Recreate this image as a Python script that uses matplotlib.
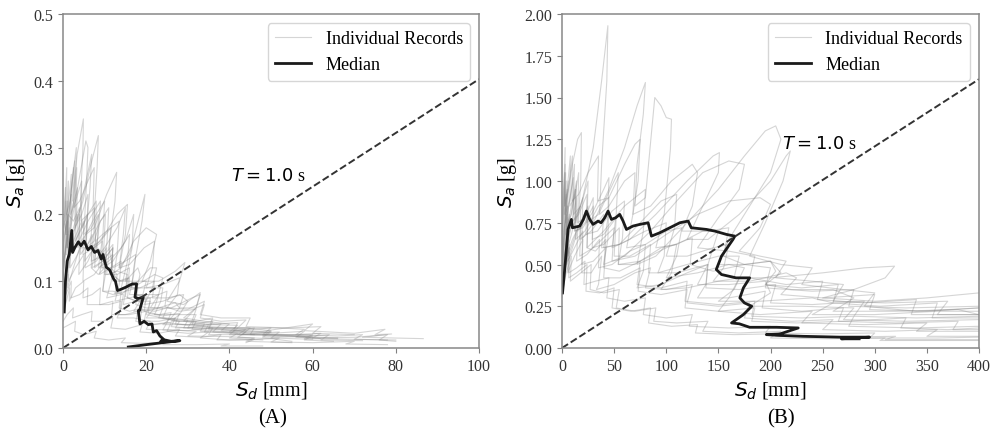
import matplotlib
matplotlib.use('Agg')
import matplotlib.pyplot as plt
import numpy as np

plt.rcParams['font.family'] = 'serif'
plt.rcParams['font.serif'] = ['Liberation Serif', 'DejaVu Serif']
plt.rcParams['mathtext.fontset'] = 'dejavusans'

# period of the reference line [s]
T_REF = 1.0

# ---------------- panel A : individual records (Sd mm, Sa g) ----------------
a01 = [(0, 0.10), (0.4, 0.13), (0.9, 0.17), (0.8, 0.14), (1.6, 0.21), (2.5, 0.27), (2.3, 0.22), (3.4, 0.29),
       (4.9, 0.343), (4.8, 0.30), (4.2, 0.22), (4.6, 0.18), (6.0, 0.20), (7.6, 0.21), (7.4, 0.17), (6.8, 0.13),
       (8.5, 0.135), (10.5, 0.14), (10.2, 0.11), (9.5, 0.085), (12, 0.085), (14.5, 0.08), (14, 0.06), (13, 0.045),
       (17, 0.045), (21, 0.04), (20, 0.028), (26, 0.027), (32, 0.025), (30, 0.018), (40, 0.017), (46, 0.015),
       (44, 0.01), (55, 0.008)]
a02 = [(0, 0.15), (0.6, 0.18), (1.2, 0.2), (1.0, 0.16), (2.2, 0.21), (3.5, 0.24), (3.2, 0.19), (4.8, 0.22),
       (6.5, 0.27), (8.5, 0.318), (8.2, 0.27), (7.5, 0.2), (7.8, 0.16), (9.5, 0.17), (11.5, 0.18), (11, 0.14),
       (10.5, 0.11), (13, 0.115), (15.5, 0.11), (15, 0.085), (14.5, 0.065), (17.5, 0.07), (21, 0.07), (20, 0.05),
       (24, 0.045), (28, 0.04), (27, 0.03), (35, 0.032), (42, 0.03), (40, 0.02), (50, 0.02), (60, 0.018),
       (58, 0.012), (65, 0.01)]
a03 = [(0, 0.08), (0.7, 0.11), (1.5, 0.15), (1.4, 0.12), (2.5, 0.17), (4.5, 0.22), (6.9, 0.29), (6.5, 0.24),
       (5.5, 0.17), (7.5, 0.18), (10.5, 0.23), (12.9, 0.263), (12.5, 0.22), (11, 0.15), (12, 0.12), (15, 0.13),
       (17.5, 0.14), (17, 0.11), (16, 0.08), (19, 0.08), (23, 0.08), (22, 0.06), (20, 0.045), (25, 0.045),
       (30, 0.042), (29, 0.03), (36, 0.03), (44, 0.028), (42, 0.02), (52, 0.02), (60, 0.02), (58, 0.014),
       (70, 0.013), (78, 0.012)]
a04 = [(0, 0.18), (0.3, 0.19), (0.8, 0.17), (1.2, 0.2), (2.5, 0.19), (4, 0.21), (3.8, 0.16), (6, 0.19),
       (9, 0.22), (8.5, 0.17), (7.5, 0.13), (10, 0.15), (13, 0.18), (15, 0.21), (14.5, 0.17), (13.5, 0.12),
       (16, 0.14), (19.7, 0.23), (19, 0.19), (17, 0.12), (16.5, 0.09), (20, 0.09), (24, 0.09), (23.5, 0.07),
       (22, 0.05), (27, 0.05), (32, 0.05), (31, 0.035), (36, 0.03), (45, 0.03), (43, 0.02), (55, 0.018),
       (60, 0.015)]
a05 = [(0, 0.06), (0.5, 0.08), (1.2, 0.11), (1.1, 0.09), (2.5, 0.12), (4, 0.15), (3.8, 0.11), (6, 0.13),
       (8, 0.16), (7.6, 0.12), (9.5, 0.13), (12, 0.15), (11.5, 0.11), (14, 0.12), (17, 0.16), (20, 0.18),
       (22.5, 0.17), (21, 0.13), (19, 0.1), (23, 0.1), (27, 0.115), (29.3, 0.128), (28, 0.1), (25, 0.07),
       (29, 0.065), (33, 0.083), (32, 0.06), (29, 0.045), (34, 0.04), (40, 0.036), (38, 0.026), (48, 0.025),
       (60, 0.036), (58, 0.026), (70, 0.022), (77.4, 0.028), (75, 0.02), (79, 0.021), (72, 0.016), (86.6, 0.014)]
a06 = [(0, 0.05), (0.8, 0.07), (1.6, 0.09), (1.5, 0.07), (3, 0.09), (5, 0.1), (4.8, 0.075), (7, 0.08),
       (9, 0.09), (8.8, 0.065), (11, 0.065), (14, 0.07), (13.5, 0.05), (16, 0.05), (20, 0.055), (19.5, 0.04),
       (23, 0.04), (27, 0.045), (26, 0.032), (30, 0.03), (35, 0.035), (34, 0.024), (40, 0.024), (46, 0.03),
       (45, 0.02), (55, 0.02), (62, 0.022), (60, 0.015), (70, 0.016), (78, 0.02), (76, 0.012), (80, 0.01)]
a07 = [(0, 0.12), (0.5, 0.16), (1.1, 0.22), (1.0, 0.17), (2.2, 0.25), (3.2, 0.3), (3, 0.24), (2.8, 0.18),
       (4.5, 0.2), (6, 0.23), (5.8, 0.18), (5.2, 0.13), (7.5, 0.15), (9.5, 0.16), (9.2, 0.12), (11.5, 0.12),
       (13, 0.11), (12.5, 0.08), (15, 0.085), (18, 0.09), (17.5, 0.065), (20, 0.06), (24, 0.06), (23, 0.045),
       (28, 0.04), (31, 0.04), (30, 0.03), (38, 0.028), (44, 0.024), (42, 0.016), (50, 0.014), (55, 0.01)]
a08 = [(0, 0.1), (0.6, 0.15), (1.3, 0.25), (1.2, 0.2), (1.0, 0.15), (2.2, 0.2), (3.3, 0.27), (3.1, 0.21),
       (2.9, 0.16), (4.6, 0.18), (5.8, 0.2), (5.6, 0.15), (7.5, 0.16), (9, 0.19), (10.2, 0.2), (9.8, 0.15),
       (8.8, 0.11), (11.5, 0.12), (14, 0.13), (13.5, 0.095), (12.5, 0.07), (16, 0.075), (19, 0.08), (18.5, 0.058),
       (22, 0.055), (25, 0.06), (24, 0.045), (28, 0.042), (32, 0.04), (31, 0.028), (38, 0.025), (42, 0.022),
       (40, 0.015), (48, 0.012)]
a09 = [(0, 0.13), (0.5, 0.14), (1.2, 0.17), (1.1, 0.13), (2.5, 0.16), (4.5, 0.19), (4.2, 0.14), (6.5, 0.16),
       (9, 0.19), (11, 0.21), (10.6, 0.16), (9.5, 0.12), (12, 0.13), (15, 0.16), (17, 0.2), (16.6, 0.15),
       (15, 0.1), (18, 0.1), (21, 0.12), (22.5, 0.12), (21.5, 0.09), (19.5, 0.065), (24, 0.07), (28, 0.08),
       (30, 0.07), (28, 0.05), (26, 0.04), (32, 0.04), (36, 0.045), (35, 0.03), (44, 0.03), (50, 0.026),
       (48, 0.018), (58, 0.017), (66, 0.015)]
a10 = [(0, 0.04), (1, 0.05), (2.5, 0.06), (2.3, 0.045), (4.5, 0.05), (7, 0.055), (6.8, 0.04), (9.5, 0.04),
       (12, 0.045), (11.5, 0.03), (15, 0.028), (19, 0.035), (18.5, 0.024), (23, 0.022), (28, 0.028), (27, 0.018),
       (33, 0.016), (38, 0.02), (37, 0.012), (45, 0.012), (52, 0.015), (50, 0.009), (60, 0.008), (70, 0.01),
       (68, 0.006), (78, 0.005)]
a11 = [(0, 0.16), (0.3, 0.18), (0.7, 0.22), (0.6, 0.17), (1.3, 0.2), (2, 0.23), (1.9, 0.17), (3, 0.18),
       (4, 0.2), (3.8, 0.15), (5.5, 0.15), (7, 0.17), (6.8, 0.12), (8.5, 0.11), (10, 0.12), (9.6, 0.085),
       (12, 0.08), (14, 0.085), (13.5, 0.06), (16, 0.055), (19, 0.06), (18.5, 0.04), (22, 0.035), (26, 0.038),
       (25, 0.025), (30, 0.022), (35, 0.024), (33, 0.015), (40, 0.012), (46, 0.013), (44, 0.008)]
a12 = [(0, 0.03), (1.5, 0.035), (3, 0.04), (2.8, 0.025), (5, 0.02), (8, 0.025), (7.5, 0.015), (11, 0.012),
       (15, 0.015), (14, 0.008), (19, 0.007), (25, 0.009), (24, 0.005), (32, 0.005), (40, 0.006), (38, 0.003),
       (48, 0.003)]
a13 = [(0, 0.09), (0.8, 0.12), (1.8, 0.16), (1.7, 0.12), (3.5, 0.14), (5.5, 0.17), (5.3, 0.12), (8, 0.13),
       (10.5, 0.15), (10, 0.11), (13, 0.11), (16, 0.12), (15.5, 0.09), (18.5, 0.09), (22, 0.1), (21.5, 0.075),
       (25, 0.075), (29, 0.08), (28, 0.06), (32, 0.06), (34, 0.065), (33, 0.045), (38, 0.04), (44, 0.042),
       (42, 0.03), (52, 0.03), (58, 0.028), (56, 0.02), (66, 0.018), (72, 0.02), (70, 0.013), (80, 0.012)]
a14 = [(0, 0.14), (0.4, 0.17), (1, 0.19), (0.9, 0.15), (2, 0.17), (3.5, 0.2), (3.3, 0.15), (5.5, 0.17),
       (8, 0.2), (10, 0.22), (9.6, 0.17), (8.5, 0.12), (11, 0.13), (14, 0.15), (16, 0.17), (15.5, 0.13),
       (14, 0.09), (18, 0.095), (22, 0.11), (24, 0.105), (23, 0.08), (21, 0.06), (26, 0.06), (31, 0.075),
       (33, 0.08), (32, 0.06), (29, 0.04), (35, 0.035), (42, 0.034), (40, 0.024), (50, 0.022), (58, 0.025),
       (56, 0.016), (66, 0.014)]
a15 = [(0, 0.07), (0.6, 0.1), (1.4, 0.13), (1.3, 0.1), (3, 0.12), (5, 0.14), (4.8, 0.1), (7.5, 0.11),
       (10, 0.13), (12, 0.14), (11.6, 0.1), (10.5, 0.075), (14, 0.08), (18, 0.1), (20, 0.1), (19, 0.075),
       (17, 0.055), (22, 0.058), (27, 0.068), (28, 0.06), (26, 0.045), (24, 0.035), (30, 0.035), (36, 0.04),
       (35, 0.028), (44, 0.027), (50, 0.03), (48, 0.02), (57, 0.018), (62, 0.014)]
a16 = [(0, 0.19), (0.3, 0.2), (0.6, 0.24), (0.5, 0.19), (1.2, 0.21), (2, 0.26), (1.8, 0.2), (3, 0.22),
       (4.5, 0.25), (4.3, 0.19), (6, 0.2), (8, 0.22), (7.8, 0.16), (7, 0.12), (9.5, 0.13), (12, 0.15),
       (11.6, 0.11), (14, 0.1), (16, 0.105), (15.5, 0.075), (18, 0.07), (21, 0.075), (20.5, 0.052), (24, 0.048),
       (28, 0.052), (27, 0.036), (33, 0.034), (38, 0.036), (36, 0.024), (45, 0.022), (52, 0.024), (50, 0.015),
       (60, 0.013)]
a17 = [(0, 0.07), (1, 0.085), (2, 0.1), (1.9, 0.075), (4, 0.08), (6, 0.09), (5.8, 0.065), (9, 0.065),
       (12, 0.07), (11.7, 0.05), (15, 0.05), (18, 0.055), (17.5, 0.04), (21, 0.035), (25, 0.038), (24, 0.027),
       (30, 0.026), (36, 0.03), (35, 0.02), (43, 0.02), (50, 0.024), (48, 0.016), (58, 0.017), (64, 0.02),
       (62, 0.012), (72, 0.011)]
a18 = [(0, 0.11), (0.5, 0.14), (1.2, 0.19), (1.1, 0.15), (2.4, 0.2), (3.8, 0.25), (5.5, 0.31), (6, 0.3),
       (5.6, 0.24), (5, 0.17), (6.8, 0.18), (8.5, 0.2), (8.2, 0.15), (10, 0.14), (12, 0.155), (11.6, 0.115),
       (13.5, 0.1), (15.5, 0.105), (15, 0.077), (17.5, 0.07), (20, 0.075), (19.5, 0.055), (23, 0.05), (26, 0.053),
       (25, 0.038), (30, 0.034), (34, 0.036), (33, 0.025), (40, 0.022), (46, 0.02)]
a19 = [(0, 0.12), (0.6, 0.15), (1.5, 0.18), (1.4, 0.14), (3, 0.16), (5, 0.19), (4.8, 0.14), (7.5, 0.15),
       (10, 0.17), (13, 0.2), (15.5, 0.215), (15, 0.17), (13.5, 0.12), (16, 0.125), (19.5, 0.15), (22, 0.16),
       (21.5, 0.12), (20, 0.09), (24, 0.095), (28, 0.105), (27.5, 0.08), (25, 0.06), (30, 0.058), (34, 0.07),
       (33, 0.05), (38, 0.045), (45, 0.045), (44, 0.032), (54, 0.03), (62, 0.032), (60, 0.022), (70, 0.02)]
a20 = [(0, 0.17), (0.4, 0.2), (0.9, 0.27), (0.8, 0.2), (1.7, 0.22), (2.8, 0.28), (2.6, 0.21), (4, 0.22),
       (6, 0.25), (7.5, 0.27), (7.2, 0.2), (6.5, 0.15), (9, 0.16), (11.5, 0.18), (13.5, 0.19), (13, 0.14),
       (12, 0.1), (15, 0.1), (18, 0.12), (18.5, 0.11), (17.5, 0.08), (21, 0.075), (25, 0.085), (24.5, 0.062),
       (28, 0.055), (32, 0.058), (31, 0.04), (37, 0.036), (42, 0.038), (41, 0.026), (50, 0.024)]
records_a = [a01, a02, a03, a04, a05, a06, a07, a08, a09, a10, a11, a12, a13, a14, a15, a16, a17, a18, a19, a20]

median_a_sd = [0.3, 0.6, 1.0, 1.5, 2.1, 2.3, 2.9, 3.7, 4.3, 5.1, 6.0, 6.8, 7.6, 8.4, 9.2, 9.6, 10.4, 11.2,
               12.2, 12.6, 13.1, 14.0, 15.1, 16.0, 16.7, 17.7, 17.3, 18.0, 19.3, 18.4, 18.1, 18.5, 19.5, 20.5,
               21.4, 21.7, 22.5, 23.3, 24.1, 23.5, 24.5, 26.0, 28.1, 24.0, 20.0, 15.7]
median_a_sa = [0.054, 0.10, 0.13, 0.14, 0.176, 0.143, 0.151, 0.159, 0.153, 0.160, 0.147, 0.152, 0.143, 0.146,
               0.133, 0.140, 0.121, 0.117, 0.103, 0.100, 0.086, 0.088, 0.091, 0.094, 0.096, 0.096, 0.076, 0.074,
               0.076, 0.056, 0.056, 0.036, 0.040, 0.035, 0.036, 0.024, 0.026, 0.018, 0.0135, 0.010, 0.012,
               0.010, 0.011, 0.008, 0.005, 0.0015]

# ---------------- panel B : individual records (Sd mm, Sa g) ----------------
b01 = [(0, 0.5), (2, 0.7), (5, 0.95), (4.5, 0.7), (9, 0.85), (14, 1.0), (13, 0.75), (20, 0.9), (30, 1.2),
       (38, 1.6), (44, 1.93), (43, 1.6), (38, 1.1), (36, 0.8), (45, 0.85), (60, 1.0), (70, 1.05), (68, 0.8),
       (62, 0.6), (80, 0.62), (100, 0.7), (115, 0.72), (110, 0.55), (100, 0.42), (130, 0.45), (160, 0.5),
       (175, 0.48), (165, 0.35), (150, 0.28), (190, 0.28), (240, 0.3), (260, 0.27), (240, 0.2), (300, 0.2),
       (360, 0.22), (400, 0.22)]
b02 = [(0, 0.4), (3, 0.6), (6, 0.85), (5.5, 0.6), (12, 0.75), (20, 0.9), (19, 0.65), (30, 0.75), (45, 0.95),
       (60, 1.2), (72, 1.45), (80, 1.59), (78, 1.4), (72, 1.1), (70, 0.85), (80, 0.9), (86, 1.3), (89, 1.5),
       (95, 1.45), (100, 1.38), (105, 1.37), (104, 1.19), (98, 0.8), (90, 0.6), (110, 0.62), (135, 0.7),
       (150, 0.7), (140, 0.5), (130, 0.38), (160, 0.38), (195, 0.4), (200, 0.33), (180, 0.25), (230, 0.25),
       (280, 0.24), (270, 0.17), (330, 0.16), (400, 0.17)]
b03 = [(0, 0.35), (3, 0.55), (7, 0.8), (6, 0.55), (14, 0.7), (25, 0.85), (24, 0.6), (40, 0.7), (60, 0.85),
       (80, 0.95), (78, 0.7), (72, 0.5), (90, 0.55), (120, 0.75), (150, 0.95), (175, 1.15), (195, 1.3),
       (205, 1.33), (210, 1.25), (200, 1.05), (180, 0.85), (160, 0.65), (150, 0.5), (175, 0.5), (200, 0.52),
       (210, 0.45), (195, 0.38), (220, 0.35), (260, 0.35), (280, 0.3), (260, 0.22), (320, 0.22), (380, 0.23),
       (400, 0.2)]
b04 = [(0, 0.55), (2, 0.75), (4, 1.0), (3.5, 0.75), (8, 0.9), (12, 1.1), (11, 0.8), (18, 0.85), (25, 1.0),
       (24, 0.75), (35, 0.8), (50, 1.0), (54, 1.05), (52, 0.8), (48, 0.6), (65, 0.65), (90, 0.8), (120, 1.0),
       (145, 1.15), (151, 1.17), (150, 1.05), (135, 0.85), (120, 0.65), (140, 0.65), (170, 0.8), (200, 1.0),
       (215, 1.15), (219, 1.18), (212, 1.0), (195, 0.75), (180, 0.55), (210, 0.5), (240, 0.48), (230, 0.38),
       (270, 0.35), (300, 0.33), (290, 0.25), (340, 0.22), (400, 0.24)]
b05 = [(0, 0.45), (2, 0.65), (5, 0.9), (10, 1.1), (15, 1.25), (18.6, 1.29), (18, 1.0), (15, 0.7), (22, 0.75),
       (30, 0.85), (29, 0.6), (40, 0.62), (55, 0.72), (54, 0.5), (70, 0.5), (95, 0.6), (110, 0.62), (105, 0.45),
       (95, 0.35), (120, 0.36), (150, 0.4), (170, 0.42), (160, 0.3), (150, 0.22), (190, 0.2), (240, 0.22),
       (230, 0.15), (290, 0.14), (350, 0.15), (340, 0.1), (400, 0.1)]
b06 = [(0, 0.3), (3, 0.45), (6, 0.6), (5.5, 0.45), (12, 0.55), (20, 0.65), (19, 0.45), (28, 0.45), (38, 0.55),
       (35, 0.38), (33, 0.35), (50, 0.38), (70, 0.45), (85, 0.48), (80, 0.36), (100, 0.35), (125, 0.38),
       (120, 0.27), (150, 0.25), (180, 0.27), (175, 0.18), (220, 0.16), (260, 0.17), (250, 0.11), (310, 0.1),
       (360, 0.11), (350, 0.07), (400, 0.07)]
b07 = [(0, 0.32), (4, 0.45), (9, 0.55), (8, 0.4), (18, 0.45), (28, 0.5), (27, 0.35), (40, 0.33), (55, 0.35),
       (52, 0.24), (70, 0.22), (90, 0.24), (88, 0.16), (110, 0.15), (140, 0.16), (135, 0.1), (170, 0.09),
       (210, 0.1), (205, 0.07), (260, 0.065), (320, 0.07), (310, 0.05), (400, 0.05)]
b08 = [(0, 0.5), (2, 0.7), (5, 0.85), (4.5, 0.65), (10, 0.75), (18, 0.85), (17, 0.65), (28, 0.7), (40, 0.8),
       (38, 0.6), (55, 0.62), (80, 0.7), (100, 0.75), (98, 0.55), (92, 0.45), (120, 0.5), (150, 0.55),
       (170, 0.55), (165, 0.42), (200, 0.42), (250, 0.45), (290, 0.48), (319, 0.49), (310, 0.42), (280, 0.35),
       (250, 0.3), (300, 0.28), (350, 0.3), (400, 0.33)]
b09 = [(0, 0.6), (1, 0.8), (3, 1.2), (2.5, 0.85), (5, 0.95), (8, 1.15), (7.5, 0.85), (12, 0.9), (16, 1.05),
       (15, 0.75), (22, 0.78), (30, 0.9), (29, 0.65), (40, 0.68), (52, 0.78), (50, 0.55), (65, 0.55),
       (85, 0.62), (83, 0.45), (110, 0.45), (140, 0.5), (138, 0.36), (170, 0.35), (205, 0.38), (200, 0.27),
       (240, 0.26), (290, 0.28), (280, 0.19), (340, 0.18), (400, 0.19)]
b10 = [(0, 0.38), (2, 0.6), (5, 0.78), (4.5, 0.55), (10, 0.65), (18, 0.75), (17, 0.55), (30, 0.6), (50, 0.72),
       (48, 0.52), (70, 0.55), (100, 0.68), (130, 0.8), (160, 0.88), (190, 0.9), (200, 0.86), (190, 0.72),
       (170, 0.58), (190, 0.55), (215, 0.52), (205, 0.42), (240, 0.4), (270, 0.38), (260, 0.28), (310, 0.27),
       (370, 0.28), (360, 0.2), (400, 0.2)]
b11 = [(0, 0.42), (2, 0.62), (4, 0.8), (3.8, 0.6), (8, 0.7), (14, 0.9), (13, 0.65), (22, 0.7), (35, 0.85),
       (45, 0.9), (44, 0.65), (40, 0.5), (60, 0.55), (85, 0.7), (110, 0.88), (135, 1.05), (160, 1.12),
       (175, 1.1), (170, 0.95), (150, 0.78), (130, 0.6), (160, 0.58), (185, 0.55), (180, 0.42), (215, 0.38),
       (250, 0.4), (245, 0.29), (290, 0.27), (340, 0.29), (335, 0.2), (400, 0.2)]
b12 = [(0, 0.35), (3, 0.5), (7, 0.62), (6.5, 0.45), (14, 0.48), (22, 0.52), (21, 0.38), (32, 0.4), (45, 0.42),
       (43, 0.3), (60, 0.28), (80, 0.3), (78, 0.2), (100, 0.18), (125, 0.2), (122, 0.13), (160, 0.12),
       (200, 0.13), (195, 0.09), (250, 0.085), (300, 0.09), (295, 0.06), (360, 0.06), (400, 0.065)]
b13 = [(0, 0.7), (1, 0.9), (2.5, 1.05), (2.2, 0.8), (4, 0.85), (6, 1.0), (5.5, 0.75), (9, 0.8), (13, 0.95),
       (12.5, 0.7), (18, 0.72), (25, 0.82), (24, 0.6), (32, 0.58), (42, 0.65), (40, 0.48), (55, 0.46),
       (75, 0.52), (72, 0.38), (95, 0.36), (120, 0.4), (118, 0.28), (150, 0.26), (185, 0.28), (182, 0.19),
       (230, 0.18), (280, 0.19), (275, 0.13), (340, 0.12), (400, 0.13)]
b14 = [(0, 0.48), (2, 0.66), (4, 0.92), (3.7, 0.68), (8, 0.78), (13, 0.95), (12, 0.7), (20, 0.72), (30, 0.82),
       (40, 0.95), (45, 1.02), (44, 0.78), (40, 0.6), (55, 0.62), (75, 0.75), (95, 0.88), (110, 0.92),
       (108, 0.72), (100, 0.55), (120, 0.55), (145, 0.6), (160, 0.62), (155, 0.48), (145, 0.4), (180, 0.4),
       (215, 0.45), (225, 0.42), (210, 0.32), (250, 0.3), (300, 0.32), (295, 0.23), (350, 0.22), (400, 0.24)]
b15 = [(0, 0.36), (2.5, 0.52), (5, 0.68), (4.6, 0.5), (9, 0.58), (15, 0.7), (14, 0.52), (24, 0.56), (36, 0.65),
       (35, 0.48), (48, 0.5), (65, 0.58), (80, 0.62), (78, 0.46), (72, 0.36), (95, 0.38), (120, 0.45),
       (140, 0.5), (138, 0.38), (130, 0.3), (160, 0.3), (195, 0.34), (192, 0.24), (230, 0.22), (270, 0.24),
       (265, 0.16), (320, 0.15), (380, 0.16), (375, 0.11), (400, 0.11)]
b16 = [(0, 0.4), (3, 0.58), (6, 0.72), (5.5, 0.52), (12, 0.6), (20, 0.7), (19, 0.5), (30, 0.52), (42, 0.6),
       (40, 0.42), (56, 0.42), (75, 0.48), (73, 0.34), (95, 0.32), (120, 0.35), (118, 0.24), (150, 0.22),
       (185, 0.24), (182, 0.16), (225, 0.15), (270, 0.16), (330, 0.18), (325, 0.12), (370, 0.11), (400, 0.12)]
b17 = [(0, 0.58), (1.5, 0.8), (3.5, 1.05), (3.2, 0.8), (7, 0.88), (11, 1.02), (10.5, 0.76), (16, 0.8),
       (24, 0.92), (23, 0.68), (34, 0.7), (48, 0.82), (60, 0.88), (58, 0.66), (54, 0.5), (75, 0.52), (100, 0.6),
       (125, 0.66), (123, 0.5), (145, 0.46), (175, 0.5), (200, 0.52), (205, 0.46), (195, 0.38), (230, 0.36),
       (265, 0.38), (260, 0.27), (305, 0.25), (360, 0.27), (355, 0.18), (400, 0.18)]
b18 = [(0, 0.33), (3, 0.48), (7, 0.6), (6.5, 0.42), (14, 0.45), (24, 0.5), (23, 0.34), (36, 0.33), (50, 0.36),
       (48, 0.24), (66, 0.22), (85, 0.24), (83, 0.15), (105, 0.13), (130, 0.14), (128, 0.09), (165, 0.08),
       (205, 0.085), (200, 0.06), (255, 0.055), (310, 0.06), (305, 0.045), (400, 0.045)]
b19 = [(0, 0.62), (1.5, 0.85), (3, 1.1), (2.8, 0.85), (6, 0.95), (10, 1.15), (9.5, 0.88), (16, 0.92),
       (25, 1.05), (35, 1.15), (34, 0.88), (45, 0.9), (60, 1.1), (70, 1.22), (75, 1.25), (73, 1.0), (68, 0.8),
       (85, 0.85), (105, 1.0), (125, 1.1), (130, 1.05), (125, 0.85), (115, 0.7), (140, 0.7), (160, 0.72),
       (155, 0.55), (175, 0.5), (200, 0.48), (195, 0.36), (240, 0.34), (280, 0.35), (275, 0.25), (330, 0.24),
       (400, 0.25)]
records_b = [b01, b02, b03, b04, b05, b06, b07, b08, b09, b10, b11, b12, b13, b14, b15, b16, b17, b18, b19]

median_b_sd = [0.5, 2.6, 5.8, 9.0, 10.0, 17.0, 20.5, 23.4, 26.6, 29.8, 34.6, 37.5, 41.0, 44.2, 47.4, 51.5,
               55.4, 58.6, 61.8, 68.0, 74.6, 82.6, 85.8, 93.8, 103.4, 113.0, 121.0, 124.0, 138.6, 146.6, 157.8,
               165.8, 164.0, 153.0, 148.0, 153.0, 167.0, 180.0, 174.0, 170.6, 175.0, 182.0, 174.0, 162.6, 170.0,
               180.0, 205.8, 226.6, 209.0, 196.0, 210.0, 231.0, 266.6, 295.0, 268.0, 285.0]
median_b_sa = [0.33, 0.47, 0.71, 0.77, 0.72, 0.73, 0.77, 0.82, 0.77, 0.74, 0.76, 0.75, 0.78, 0.82, 0.77, 0.78,
               0.80, 0.76, 0.71, 0.73, 0.74, 0.75, 0.67, 0.69, 0.72, 0.75, 0.76, 0.72, 0.71, 0.70, 0.68,
               0.67, 0.65, 0.55, 0.47, 0.44, 0.42, 0.42, 0.36, 0.30, 0.27, 0.25, 0.20, 0.15, 0.145,
               0.124, 0.124, 0.12, 0.084, 0.08, 0.075, 0.07, 0.065, 0.065, 0.055, 0.055]


def t_line(sd_max):
    # constant-period line: Sa = (2*pi/T)^2 * Sd / g  (Sd in mm -> m)
    sd = np.array([0.0, sd_max])
    sa = (2 * np.pi / T_REF) ** 2 * sd / 1000.0 / 9.81
    return sd, sa


def draw_panel(ax, records, med_sd, med_sa, xmax, ymax, xticks, yticks, yfmt, txt_xy):
    for i, rec in enumerate(records):
        sd, sa = zip(*rec)
        ax.plot(sd, sa, color='#808080', alpha=0.33, lw=0.8,
                label='Individual Records' if i == 0 else None)
    ax.plot(med_sd, med_sa, color='#1a1a1a', lw=2.0, label='Median')
    lsd, lsa = t_line(xmax)
    ax.plot(lsd, lsa, '--', color='#333333', lw=1.4)
    ax.text(txt_xy[0], txt_xy[1], r'$T = 1.0$ s', fontsize=13)

    ax.set_xlim(0, xmax)
    ax.set_ylim(0, ymax)
    ax.set_xticks(xticks)
    ax.set_yticks(yticks)
    ax.set_yticklabels([yfmt % v for v in yticks])
    ax.set_xlabel(r'$S_d$ [mm]', fontsize=14.5)
    ax.set_ylabel(r'$S_a$ [g]', fontsize=14.5)
    ax.tick_params(labelsize=11.5, colors='#333333', length=3.5, color='#808080')
    for s in ax.spines.values():
        s.set_color('#888888')
        s.set_linewidth(1.1)
    leg = ax.legend(loc='upper right', fontsize=13, frameon=True, fancybox=True)
    leg.get_frame().set_edgecolor('#cccccc')


fig = plt.figure(figsize=(9.92, 4.35), dpi=100)
ax_a = fig.add_axes([63 / 992, 86 / 435, 416 / 992, 334 / 435])
ax_b = fig.add_axes([562 / 992, 86 / 435, 417 / 992, 334 / 435])

draw_panel(ax_a, records_a, median_a_sd, median_a_sa, 100, 0.5,
           [0, 20, 40, 60, 80, 100], [0.0, 0.1, 0.2, 0.3, 0.4, 0.5], '%.1f', (40.5, 0.252))
draw_panel(ax_b, records_b, median_b_sd, median_b_sa, 400, 2.0,
           [0, 50, 100, 150, 200, 250, 300, 350, 400],
           [0.0, 0.25, 0.5, 0.75, 1.0, 1.25, 1.5, 1.75, 2.0], '%.2f', (211, 1.195))

fig.text(273 / 992, 1 - 419 / 435, '(A)', fontsize=15, ha='center', va='center')
fig.text(781 / 992, 1 - 419 / 435, '(B)', fontsize=15, ha='center', va='center')

fig.savefig('out.png', dpi=100)
